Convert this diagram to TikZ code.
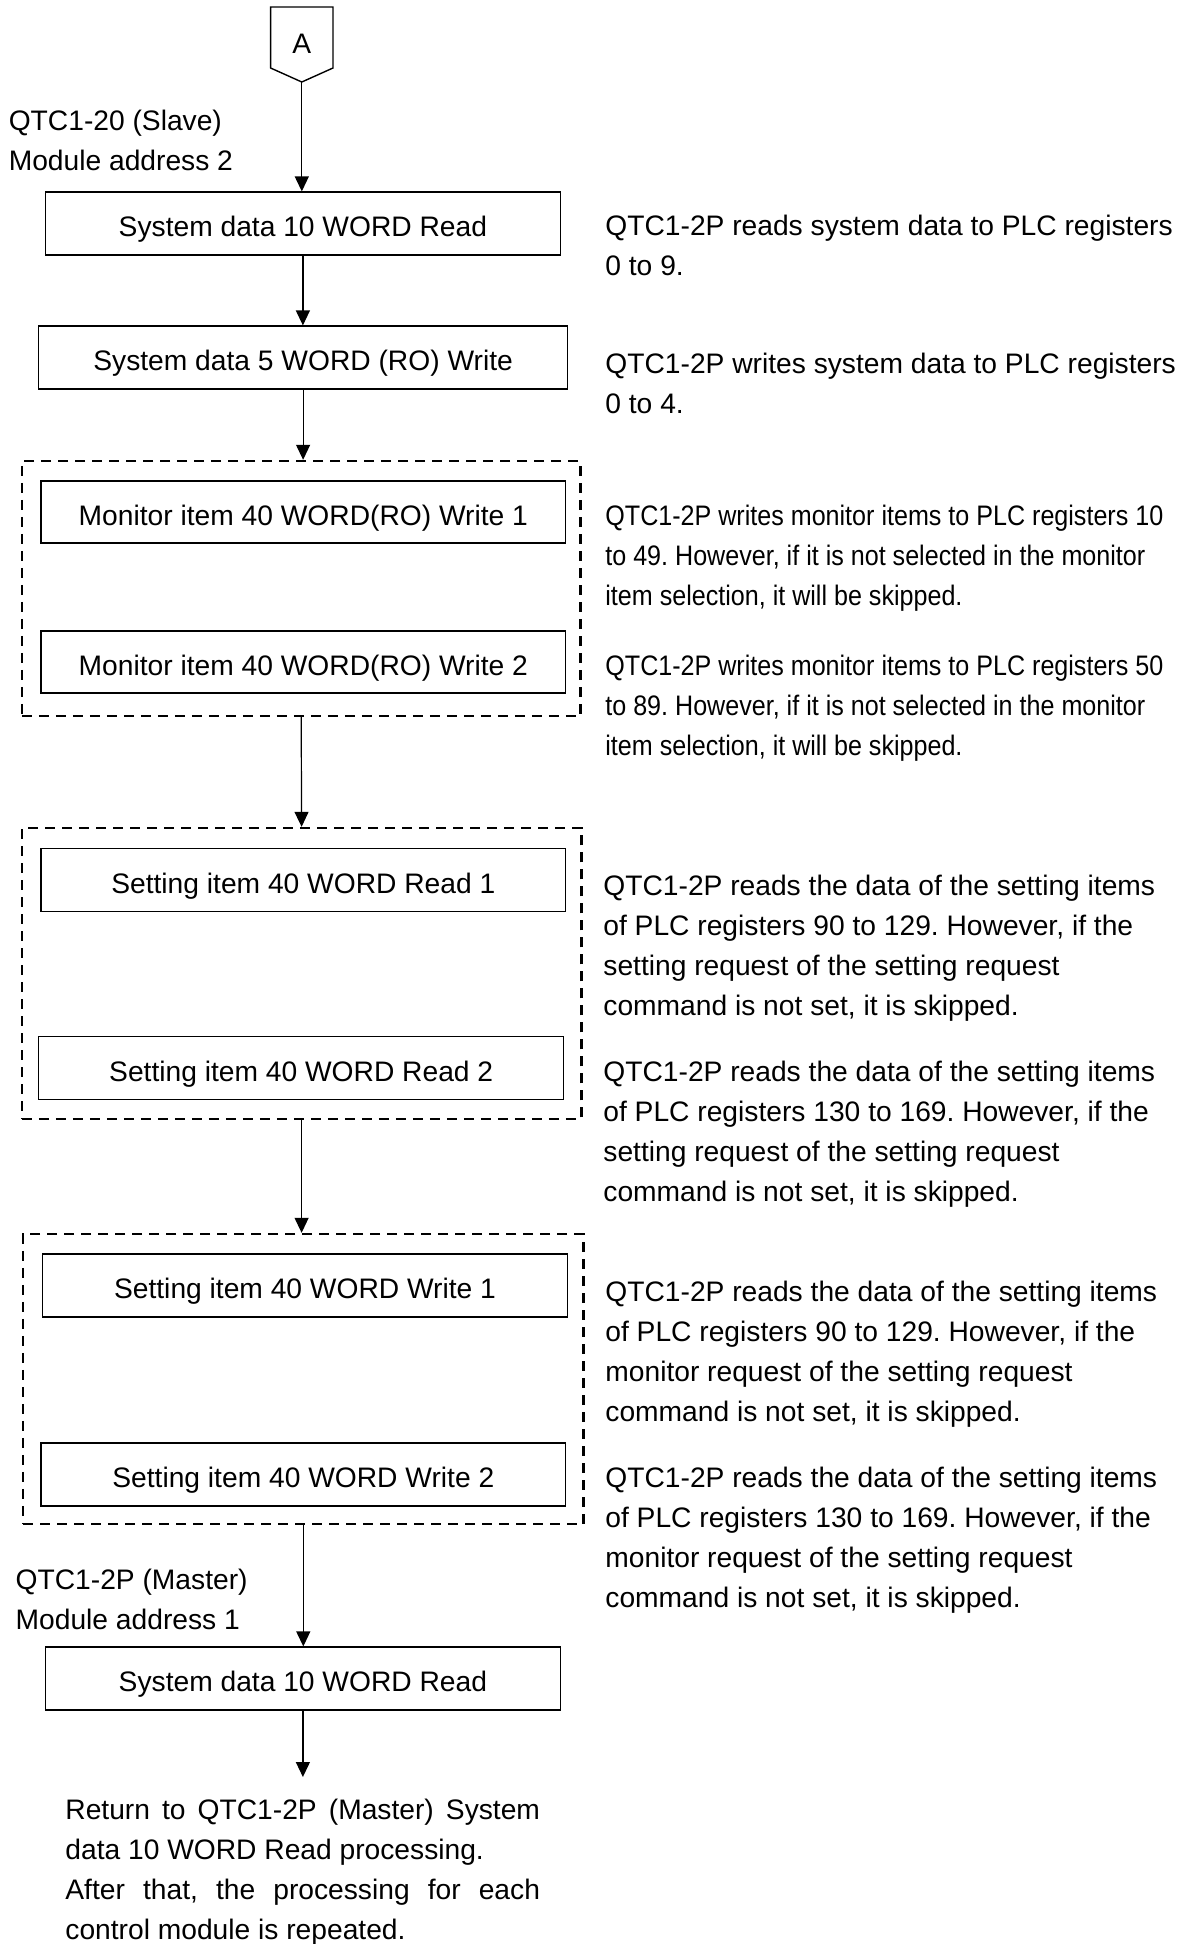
\documentclass[tikz,border=0pt]{standalone}
\usepackage{fontspec}
\setmainfont{Liberation Sans}
\newfontfamily\narrowfont[FakeStretch=0.89]{Liberation Sans}
\usetikzlibrary{arrows.meta,positioning,calc}
\frenchspacing
\tikzset{
  procbox/.style={draw=black,line width=.6pt,minimum height=31.5pt,inner sep=0pt,
                  text height=14pt,text depth=0.8pt},
  grpbox/.style={draw=black,line width=1.2pt,dash pattern=on 5pt off 3.5pt,
                 inner sep=0pt},
  flow/.style={-{Triangle[length=7.5pt,width=7pt]},draw=black,line width=.6pt},
  note/.style={anchor=base west,align=left,inner sep=0pt},
  narrownote/.style={note,font=\narrowfont\fontsize{14.1}{20}\selectfont},
  offpage/.style={draw=black,line width=.7pt},
}

\begin{document}
\begin{tikzpicture}[x=0.5pt,y=-0.5pt,font=\fontsize{14.1}{20}\selectfont]
  \useasboundingbox (0,0) rectangle (1184,1944);
  % off-page connector A
  \draw[offpage] (270.6,7) -- (333,7) -- (333,68) -- (301.8,82) -- (270.6,68) -- cycle;
  \node (A) at (301.8,44) {A};
  \coordinate (Atip) at (301.8,82);

  \node[procbox,minimum width=257.7pt] (sys1) at (302.9,223.5) {System data 10 WORD Read};
  \node[procbox,minimum width=264.4pt] (sys2) at (303.1,357.5) {System data 5 WORD (RO) Write};

  \node[grpbox,minimum width=279.3pt,minimum height=127.5pt] (grp1) at (301.2,588.5) {};
  \node[procbox,minimum width=262.3pt,minimum height=31pt] (mon1) at (303.3,512) {Monitor item 40 WORD(RO) Write 1};
  \node[procbox,minimum width=262.3pt,minimum height=31pt] (mon2) at (303.3,662) {Monitor item 40 WORD(RO) Write 2};

  \node[grpbox,minimum width=279.7pt,minimum height=145.5pt] (grp2) at (301.6,973.5) {};
  \node[procbox,minimum width=262.3pt] (rd1) at (303.3,880) {Setting item 40 WORD Read 1};
  \node[procbox,minimum width=262.5pt] (rd2) at (301.2,1068) {Setting item 40 WORD Read 2};

  \node[grpbox,minimum width=280.3pt,minimum height=145pt] (grp3) at (303.3,1379) {};
  \node[procbox,minimum width=262.5pt] (wr1) at (305,1285.5) {Setting item 40 WORD Write 1};
  \node[procbox,minimum width=262.3pt] (wr2) at (303.3,1474.5) {Setting item 40 WORD Write 2};

  \node[procbox,minimum width=257.7pt] (sys3) at (302.9,1678.5) {System data 10 WORD Read};
  \coordinate (back) at (302.9,1777);

  \node[note] (slave) at (8.4,170) {QTC1-20 (Slave)\\Module address 2};
  \node[note] (master) at (15.3,1629) {QTC1-2P (Master)\\Module address 1};

  \node[note] (n1) at (605,275) {QTC1-2P reads system data to PLC registers\\0 to 9.};
  \node[note] (n2) at (605,413) {QTC1-2P writes system data to PLC registers\\0 to 4.};
  \node[narrownote] (n3) at (605,605)
    {QTC1-2P writes monitor items to PLC registers 10\\to 49. However, if it is not selected in the monitor\\item selection, it will be skipped.};
  \node[narrownote] (n4) at (605,755)
    {QTC1-2P writes monitor items to PLC registers 50\\to 89. However, if it is not selected in the monitor\\item selection, it will be skipped.};
  \node[note] (n5) at (603,1015)
    {QTC1-2P reads the data of the setting items\\of PLC registers 90 to 129. However, if the\\setting request of the setting request\\command is not set, it is skipped.};
  \node[note] (n6) at (603,1201)
    {QTC1-2P reads the data of the setting items\\of PLC registers 130 to 169. However, if the\\setting request of the setting request\\command is not set, it is skipped.};
  \node[note] (n7) at (605,1421)
    {QTC1-2P reads the data of the setting items\\of PLC registers 90 to 129. However, if the\\monitor request of the setting request\\command is not set, it is skipped.};
  \node[note] (n8) at (605,1607)
    {QTC1-2P reads the data of the setting items\\of PLC registers 130 to 169. However, if the\\monitor request of the setting request\\command is not set, it is skipped.};

  \node[note,text width=237.3pt,align=justify] (ret) at (65,1819)
    {Return to QTC1-2P (Master) System\linebreak data 10 WORD Read processing.\\After that, the processing for each\linebreak control module is repeated.};

  \draw[flow] (Atip) -- (Atip |- sys1.north);
  \draw[flow] (sys1.south) -- (sys1.south |- sys2.north);
  \draw[flow] (sys2.south) -- (sys2.south |- grp1.north);
  \draw[flow] (grp1.south) -- (grp2.north);
  \draw[flow] (grp2.south) -- (grp2.south |- grp3.north);
  \draw[flow] (grp3.south) -- (grp3.south |- sys3.north);
  \draw[flow] (sys3.south) -- (back);
\end{tikzpicture}
\end{document}
